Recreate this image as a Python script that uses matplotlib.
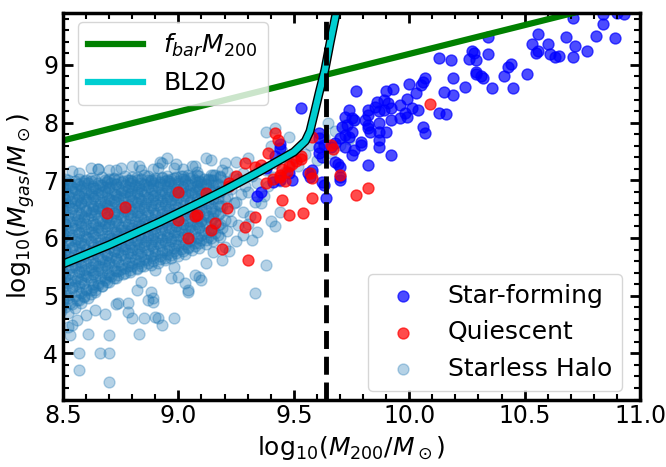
import numpy as np
import matplotlib.pyplot as plt
from matplotlib.ticker import MultipleLocator

# starless halos: (log10 M200, log10 Mgas)
halo_pts = [
    # dense core
    (8.48,4.62),(8.49,4.81),(8.50,4.95),(8.48,5.08),(8.49,5.21),(8.51,5.33),(8.48,5.44),(8.50,5.58),(8.49,5.67),(8.51,5.79),(8.48,5.9),(8.50,6.02),(8.49,6.13),(8.51,6.24),(8.48,6.35),(8.50,6.46),(8.49,6.57),(8.51,6.66),(8.48,6.77),(8.50,6.86),(8.49,6.95),(8.51,7.03),
    (8.52,4.7),(8.53,4.88),(8.52,5.02),(8.54,5.15),(8.53,5.27),(8.52,5.38),(8.54,5.5),(8.53,5.61),(8.52,5.73),(8.54,5.84),(8.53,5.96),(8.52,6.07),(8.54,6.18),(8.53,6.29),(8.52,6.4),(8.54,6.52),(8.53,6.62),(8.52,6.72),(8.54,6.81),(8.53,6.91),(8.52,7.0),(8.54,7.16),
    (8.55,4.78),(8.56,4.93),(8.57,5.06),(8.55,5.19),(8.56,5.31),(8.57,5.42),(8.55,5.54),(8.56,5.65),(8.57,5.76),(8.55,5.88),(8.56,5.99),(8.57,6.1),(8.55,6.22),(8.56,6.33),(8.57,6.44),(8.55,6.55),(8.56,6.65),(8.57,6.75),(8.55,6.85),(8.56,6.94),(8.57,7.02),
    (8.58,4.87),(8.59,5.0),(8.60,5.12),(8.58,5.24),(8.59,5.36),(8.60,5.47),(8.58,5.59),(8.59,5.7),(8.60,5.81),(8.58,5.92),(8.59,6.04),(8.60,6.15),(8.58,6.26),(8.59,6.37),(8.60,6.49),(8.58,6.6),(8.59,6.7),(8.60,6.8),(8.58,6.9),(8.59,6.99),(8.60,7.0),
    (8.61,4.96),(8.62,5.09),(8.63,5.2),(8.61,5.32),(8.62,5.44),(8.63,5.55),(8.61,5.66),(8.62,5.78),(8.63,5.89),(8.61,6.0),(8.62,6.11),(8.63,6.22),(8.61,6.34),(8.62,6.45),(8.63,6.56),(8.61,6.67),(8.62,6.77),(8.63,6.87),(8.61,6.96),(8.62,7.04),
    (8.64,5.07),(8.65,5.18),(8.66,5.3),(8.64,5.41),(8.65,5.52),(8.66,5.63),(8.64,5.74),(8.65,5.86),(8.66,5.97),(8.64,6.08),(8.65,6.19),(8.66,6.3),(8.64,6.41),(8.65,6.52),(8.66,6.63),(8.64,6.73),(8.65,6.83),(8.66,6.92),(8.64,7.01),(8.65,7.2),
    (8.67,5.16),(8.68,5.27),(8.69,5.38),(8.67,5.49),(8.68,5.6),(8.69,5.71),(8.67,5.82),(8.68,5.93),(8.69,6.04),(8.67,6.15),(8.68,6.26),(8.69,6.37),(8.67,6.48),(8.68,6.59),(8.69,6.69),(8.67,6.79),(8.68,6.89),(8.69,6.98),(8.67,7.06),
    (8.70,5.23),(8.71,5.34),(8.72,5.45),(8.70,5.56),(8.71,5.67),(8.72,5.78),(8.70,5.89),(8.71,6.0),(8.72,6.11),(8.70,6.22),(8.71,6.33),(8.72,6.44),(8.70,6.55),(8.71,6.66),(8.72,6.76),(8.70,6.86),(8.71,6.95),(8.72,7.04),(8.70,7.02),
    (8.73,5.31),(8.74,5.42),(8.75,5.53),(8.73,5.64),(8.74,5.75),(8.75,5.86),(8.73,5.97),(8.74,6.08),(8.75,6.19),(8.73,6.3),(8.74,6.41),(8.75,6.52),(8.73,6.63),(8.74,6.73),(8.75,6.83),(8.73,6.93),(8.74,7.02),(8.75,7.22),
    (8.76,5.37),(8.77,5.48),(8.78,5.59),(8.76,5.7),(8.77,5.81),(8.78,5.92),(8.76,6.03),(8.77,6.14),(8.78,6.25),(8.76,6.36),(8.77,6.47),(8.78,6.58),(8.76,6.69),(8.77,6.79),(8.78,6.89),(8.76,6.98),(8.77,7.07),
    (8.79,5.41),(8.80,5.52),(8.81,5.63),(8.79,5.74),(8.80,5.85),(8.81,5.96),(8.79,6.07),(8.80,6.18),(8.81,6.29),(8.79,6.4),(8.80,6.51),(8.81,6.62),(8.79,6.72),(8.80,6.82),(8.81,6.92),(8.79,7.01),(8.80,6.98),
    (8.82,5.46),(8.83,5.57),(8.84,5.68),(8.82,5.79),(8.83,5.9),(8.84,6.01),(8.82,6.12),(8.83,6.23),(8.84,6.34),(8.82,6.45),(8.83,6.56),(8.84,6.67),(8.82,6.77),(8.83,6.87),(8.84,6.96),(8.82,7.05),(8.83,7.25),
    (8.85,5.51),(8.86,5.62),(8.87,5.73),(8.85,5.84),(8.86,5.95),(8.87,6.06),(8.85,6.17),(8.86,6.28),(8.87,6.39),(8.85,6.5),(8.86,6.61),(8.87,6.71),(8.85,6.81),(8.86,6.91),(8.87,7.0),(8.85,7.09),
    (8.88,5.54),(8.89,5.66),(8.90,5.77),(8.88,5.88),(8.89,5.99),(8.90,6.1),(8.88,6.21),(8.89,6.32),(8.90,6.43),(8.88,6.54),(8.89,6.65),(8.90,6.75),(8.88,6.85),(8.89,6.95),(8.90,7.04),(8.88,7.0),
    (8.91,5.57),(8.92,5.69),(8.93,5.8),(8.91,5.91),(8.92,6.02),(8.93,6.13),(8.91,6.24),(8.92,6.35),(8.93,6.46),(8.91,6.57),(8.92,6.68),(8.93,6.78),(8.91,6.88),(8.92,6.97),(8.93,7.06),(8.91,7.22),
    (8.94,5.61),(8.95,5.73),(8.96,5.84),(8.94,5.95),(8.95,6.06),(8.96,6.17),(8.94,6.28),(8.95,6.39),(8.96,6.5),(8.94,6.61),(8.95,6.71),(8.96,6.81),(8.94,6.91),(8.95,7.0),(8.96,6.98),
    (8.97,5.65),(8.98,5.77),(8.99,5.88),(8.97,5.99),(8.98,6.1),(8.99,6.21),(8.97,6.32),(8.98,6.43),(8.99,6.54),(8.97,6.65),(8.98,6.75),(8.99,6.85),(8.97,6.95),(8.98,7.04),(8.99,7.28),
    (9.00,5.69),(9.01,5.81),(9.02,5.92),(9.00,6.03),(9.01,6.14),(9.02,6.25),(9.00,6.36),(9.01,6.47),(9.02,6.58),(9.00,6.69),(9.01,6.79),(9.02,6.89),(9.00,6.98),(9.01,7.07),(9.02,7.02),
    (9.03,5.73),(9.04,5.85),(9.05,5.96),(9.03,6.07),(9.04,6.18),(9.05,6.29),(9.03,6.4),(9.04,6.51),(9.05,6.62),(9.03,6.72),(9.04,6.82),(9.05,6.92),(9.03,7.01),(9.04,7.1),
    (9.06,5.79),(9.07,5.91),(9.08,6.02),(9.06,6.13),(9.07,6.24),(9.08,6.35),(9.06,6.46),(9.07,6.57),(9.08,6.68),(9.06,6.78),(9.07,6.88),(9.08,6.97),(9.06,7.06),(9.07,7.24),
    (9.09,5.83),(9.10,5.96),(9.11,6.08),(9.09,6.19),(9.10,6.3),(9.11,6.41),(9.09,6.52),(9.10,6.63),(9.11,6.74),(9.09,6.84),(9.10,6.94),(9.11,7.03),(9.09,6.98),
    (9.12,5.89),(9.13,6.02),(9.14,6.14),(9.12,6.26),(9.13,6.38),(9.14,6.5),(9.12,6.61),(9.13,6.72),(9.14,6.82),(9.12,6.92),(9.13,7.01),(9.14,7.1),
    (9.15,5.95),(9.16,6.09),(9.17,6.22),(9.15,6.35),(9.16,6.47),(9.17,6.59),(9.15,6.7),(9.16,6.81),(9.17,6.91),(9.15,7.0),(9.16,7.09),
    (9.18,6.02),(9.19,6.17),(9.20,6.31),(9.18,6.44),(9.19,6.56),(9.20,6.68),(9.18,6.79),(9.19,6.89),(9.20,6.99),(9.18,7.08),(9.19,7.17),
    (9.21,6.12),(9.23,6.3),(9.22,6.46),(9.24,6.6),(9.21,6.73),(9.23,6.85),(9.22,6.96),(9.24,7.06),(9.21,7.15),
    (9.26,6.22),(9.28,6.45),(9.25,6.62),(9.27,6.77),(9.29,6.9),(9.26,7.02),(9.28,7.12),
    (9.31,6.38),(9.33,6.62),(9.30,6.8),(9.34,6.95),(9.32,7.08),(9.35,7.2),
    (9.37,6.72),(9.39,6.9),(9.41,7.05),(9.38,7.18),(9.42,7.3),
    (9.44,6.98),(9.46,7.15),(9.48,7.3),(9.45,7.42),(9.50,7.38),
    # second pass through the saturated core
    (8.49,4.74),(8.50,4.9),(8.49,5.04),(8.50,5.15),(8.49,5.27),(8.50,5.39),(8.49,5.52),(8.50,5.63),(8.49,5.74),(8.50,5.85),(8.49,5.97),(8.50,6.08),(8.49,6.19),(8.50,6.3),(8.49,6.41),(8.50,6.52),(8.49,6.62),(8.50,6.71),(8.49,6.82),(8.50,6.91),
    (8.51,4.8),(8.52,4.96),(8.51,5.1),(8.52,5.22),(8.51,5.34),(8.52,5.46),(8.51,5.57),(8.52,5.68),(8.51,5.8),(8.52,5.91),(8.51,6.03),(8.52,6.14),(8.51,6.25),(8.52,6.36),(8.51,6.47),(8.52,6.58),(8.51,6.68),(8.52,6.77),(8.51,6.87),(8.52,6.96),
    (8.54,4.85),(8.55,5.0),(8.54,5.13),(8.55,5.25),(8.54,5.37),(8.55,5.49),(8.54,5.6),(8.55,5.71),(8.54,5.83),(8.55,5.94),(8.54,6.05),(8.55,6.16),(8.54,6.28),(8.55,6.39),(8.54,6.5),(8.55,6.6),(8.54,6.7),(8.55,6.8),(8.54,6.89),(8.55,6.98),
    (8.57,4.92),(8.58,5.05),(8.57,5.17),(8.58,5.29),(8.57,5.41),(8.58,5.52),(8.57,5.63),(8.58,5.75),(8.57,5.86),(8.58,5.97),(8.57,6.09),(8.58,6.2),(8.57,6.31),(8.58,6.42),(8.57,6.53),(8.58,6.63),(8.57,6.73),(8.58,6.83),(8.57,6.93),
    (8.59,4.98),(8.60,5.1),(8.59,5.22),(8.60,5.34),(8.59,5.45),(8.60,5.56),(8.59,5.68),(8.60,5.79),(8.59,5.9),(8.60,6.02),(8.59,6.13),(8.60,6.24),(8.59,6.35),(8.60,6.46),(8.59,6.56),(8.60,6.66),(8.59,6.76),(8.60,6.86),(8.59,6.95),
    (8.62,5.03),(8.63,5.15),(8.62,5.27),(8.63,5.38),(8.62,5.5),(8.63,5.61),(8.62,5.72),(8.63,5.84),(8.62,5.95),(8.63,6.06),(8.62,6.17),(8.63,6.28),(8.62,6.39),(8.63,6.5),(8.62,6.6),(8.63,6.7),(8.62,6.8),(8.63,6.9),(8.62,6.99),
    (8.64,5.1),(8.65,5.22),(8.64,5.34),(8.65,5.45),(8.64,5.57),(8.65,5.68),(8.64,5.8),(8.65,5.91),(8.64,6.02),(8.65,6.13),(8.64,6.24),(8.65,6.35),(8.64,6.46),(8.65,6.56),(8.64,6.66),(8.65,6.76),(8.64,6.86),(8.65,6.95),
    (8.67,5.17),(8.68,5.3),(8.67,5.41),(8.68,5.53),(8.67,5.64),(8.68,5.76),(8.67,5.87),(8.68,5.98),(8.67,6.09),(8.68,6.2),(8.67,6.31),(8.68,6.42),(8.67,6.52),(8.68,6.62),(8.67,6.72),(8.68,6.82),(8.67,6.92),(8.68,7.01),
    (8.69,5.24),(8.70,5.36),(8.69,5.48),(8.70,5.59),(8.69,5.71),(8.70,5.82),(8.69,5.93),(8.70,6.04),(8.69,6.15),(8.70,6.26),(8.69,6.37),(8.70,6.48),(8.69,6.58),(8.70,6.68),(8.69,6.78),(8.70,6.88),(8.69,6.97),
    (8.72,5.3),(8.73,5.42),(8.72,5.54),(8.73,5.65),(8.72,5.77),(8.73,5.88),(8.72,5.99),(8.73,6.1),(8.72,6.21),(8.73,6.32),(8.72,6.43),(8.73,6.54),(8.72,6.64),(8.73,6.74),(8.72,6.84),(8.73,6.94),(8.72,7.03),
    (8.74,5.35),(8.75,5.47),(8.74,5.58),(8.75,5.7),(8.74,5.81),(8.75,5.92),(8.74,6.03),(8.75,6.14),(8.74,6.25),(8.75,6.36),(8.74,6.47),(8.75,6.58),(8.74,6.68),(8.75,6.78),(8.74,6.88),(8.75,6.97),
    (8.77,5.4),(8.78,5.52),(8.77,5.63),(8.78,5.74),(8.77,5.86),(8.78,5.97),(8.77,6.08),(8.78,6.19),(8.77,6.3),(8.78,6.41),(8.77,6.52),(8.78,6.62),(8.77,6.72),(8.78,6.82),(8.77,6.92),(8.78,7.01),
    (8.79,5.44),(8.80,5.56),(8.79,5.67),(8.80,5.79),(8.79,5.9),(8.80,6.01),(8.79,6.12),(8.80,6.23),(8.79,6.34),(8.80,6.45),(8.79,6.56),(8.80,6.66),(8.79,6.76),(8.80,6.86),(8.79,6.96),(8.80,7.05),
    (8.82,5.48),(8.83,5.6),(8.82,5.72),(8.83,5.83),(8.82,5.94),(8.83,6.05),(8.82,6.16),(8.83,6.27),(8.82,6.38),(8.83,6.49),(8.82,6.6),(8.83,6.7),(8.82,6.8),(8.83,6.9),(8.82,7.0),
    (8.84,5.52),(8.85,5.64),(8.84,5.76),(8.85,5.87),(8.84,5.98),(8.85,6.09),(8.84,6.2),(8.85,6.31),(8.84,6.42),(8.85,6.53),(8.84,6.64),(8.85,6.74),(8.84,6.84),(8.85,6.94),(8.84,7.03),
    (8.87,5.56),(8.88,5.68),(8.87,5.8),(8.88,5.91),(8.87,6.02),(8.88,6.13),(8.87,6.24),(8.88,6.35),(8.87,6.46),(8.88,6.57),(8.87,6.68),(8.88,6.78),(8.87,6.88),(8.88,6.98),(8.87,7.07),
    (8.89,5.6),(8.90,5.72),(8.89,5.84),(8.90,5.95),(8.89,6.06),(8.90,6.17),(8.89,6.28),(8.90,6.39),(8.89,6.5),(8.90,6.61),(8.89,6.72),(8.90,6.82),(8.89,6.92),(8.90,7.01),
    (8.92,5.63),(8.93,5.75),(8.92,5.87),(8.93,5.98),(8.92,6.09),(8.93,6.2),(8.92,6.31),(8.93,6.42),(8.92,6.53),(8.93,6.64),(8.92,6.74),(8.93,6.84),(8.92,6.94),(8.93,7.04),
    (8.94,5.66),(8.95,5.79),(8.94,5.91),(8.95,6.02),(8.94,6.13),(8.95,6.24),(8.94,6.35),(8.95,6.46),(8.94,6.57),(8.95,6.68),(8.94,6.78),(8.95,6.88),(8.94,6.98),(8.95,7.07),
    (8.97,5.7),(8.98,5.83),(8.97,5.95),(8.98,6.06),(8.97,6.17),(8.98,6.28),(8.97,6.39),(8.98,6.5),(8.97,6.61),(8.98,6.72),(8.97,6.82),(8.98,6.92),(8.97,7.02),
    (8.99,5.74),(9.00,5.87),(8.99,5.99),(9.00,6.1),(8.99,6.21),(9.00,6.32),(8.99,6.43),(9.00,6.54),(8.99,6.65),(9.00,6.75),(8.99,6.85),(9.00,6.95),(8.99,7.05),
    (9.02,5.78),(9.03,5.9),(9.02,6.02),(9.03,6.13),(9.02,6.24),(9.03,6.35),(9.02,6.46),(9.03,6.57),(9.02,6.68),(9.03,6.78),(9.02,6.88),(9.03,6.98),(9.02,7.08),
    (9.04,5.82),(9.05,5.95),(9.04,6.07),(9.05,6.19),(9.04,6.3),(9.05,6.41),(9.04,6.52),(9.05,6.63),(9.04,6.74),(9.05,6.84),(9.04,6.94),(9.05,7.04),
    (9.07,5.86),(9.08,6.0),(9.07,6.12),(9.08,6.24),(9.07,6.36),(9.08,6.47),(9.07,6.58),(9.08,6.69),(9.07,6.8),(9.08,6.9),(9.07,7.0),(9.08,7.1),
    (9.09,5.91),(9.10,6.05),(9.09,6.18),(9.10,6.3),(9.09,6.42),(9.10,6.54),(9.09,6.65),(9.10,6.76),(9.09,6.87),(9.10,6.97),(9.09,7.07),
    (9.12,5.96),(9.13,6.1),(9.12,6.23),(9.13,6.36),(9.12,6.48),(9.13,6.6),(9.12,6.71),(9.13,6.82),(9.12,6.93),(9.13,7.03),
    (9.14,6.0),(9.15,6.16),(9.14,6.3),(9.15,6.43),(9.14,6.56),(9.15,6.68),(9.14,6.79),(9.15,6.9),(9.14,7.0),(9.15,7.1),
    (9.17,6.06),(9.18,6.24),(9.17,6.4),(9.18,6.55),(9.17,6.69),(9.18,6.82),(9.17,6.94),(9.18,7.05),
    # upper scatter
    (8.95,7.39),(8.93,7.3),(8.70,7.18),(8.65,7.2),(8.57,7.12),(8.84,7.18),(8.73,7.17),(9.02,7.2),(8.98,7.22),(8.89,7.2),
    (9.12,7.39),(8.92,7.32),(9.06,7.25),(8.62,7.22),(9.20,7.3),(9.25,7.32),(9.30,7.38),(8.80,7.25),(9.14,7.36),(9.08,7.14),
    # hidden behind the star-forming cloud
    (9.52,7.25),(9.55,7.45),(9.57,7.62),(9.60,7.35),(9.62,7.55),(9.63,7.75),(9.66,7.48),(9.68,7.85),(9.70,7.62),(9.72,7.95),
    (9.74,7.72),(9.76,8.05),(9.65,8.0),(9.58,7.12),(9.42,7.9),(9.38,7.84),(9.40,7.6),(9.45,7.5),(9.48,7.75),
    # lower scatter
    (8.57,3.71),(8.70,3.51),(8.57,4.01),(8.66,4.01),(8.70,4.01),(8.53,4.32),(8.61,4.34),(8.70,4.32),(8.83,4.34),(8.85,4.61),
    (8.91,4.61),(8.93,4.49),(8.98,4.61),(8.56,4.58),(8.80,4.61),(8.68,4.68),(8.74,4.87),(8.78,4.72),(8.87,4.93),(8.88,5.06),
    (8.97,5.31),(9.04,5.1),(9.03,5.22),(9.00,5.33),(8.98,5.5),(8.90,5.45),(8.84,5.24),(8.82,5.1),(8.78,4.88),(8.73,4.85),
    (9.07,5.36),(9.33,5.05),(9.38,5.53),(9.32,5.97),(9.34,6.1),(9.36,6.61),(9.44,6.45),(9.19,5.62),(9.12,5.57),(9.09,5.32),
    (9.10,5.27),(9.04,5.06),(8.89,4.96),(8.89,4.89),(8.90,4.63),(8.64,4.76),(8.60,4.66),(8.52,4.45),(8.54,4.5),(9.15,5.75),
    (9.20,5.85),(9.25,5.95),(9.28,6.05),(9.22,5.78),(9.40,6.3),(9.42,6.2),(9.30,6.25),
]

# star-forming galaxies
sf_pts = [
    (10.71,9.81),(10.84,9.88),(10.90,9.9),(10.93,9.88),(10.84,9.71),(10.56,9.54),(10.68,9.48),(10.81,9.5),(10.89,9.47),(10.53,9.36),
    (10.60,9.36),(10.72,9.33),(10.77,9.24),(10.55,9.21),(10.56,9.24),(10.61,9.19),(10.63,9.14),(10.65,9.16),(10.71,9.14),(10.34,9.19),
    (10.28,9.21),(10.29,9.09),(10.44,9.02),(10.43,8.96),(10.29,8.84),(10.31,8.81),(10.32,8.78),(10.41,8.81),(10.51,8.84),(10.36,8.6),
    (10.45,8.6),(10.34,9.48),(10.13,9.12),(10.18,9.09),(10.27,9.24),(10.26,9.1),(10.29,8.87),(10.19,8.77),(10.24,8.62),(10.15,8.53),
    (10.19,8.48),(10.13,8.17),(10.16,8.15),(10.06,8.7),(10.07,8.77),(10.05,8.65),(10.00,8.67),(10.03,8.51),(9.93,8.58),(9.90,8.55),
    (9.77,8.55),(9.99,8.41),(9.96,8.31),(10.01,8.25),(10.04,8.22),(9.89,8.39),(9.91,8.34),(9.92,8.25),(9.89,8.22),(9.98,8.17),
    (9.99,8.1),(9.96,8.08),(9.86,8.36),(9.85,8.27),(9.82,8.22),(9.82,8.13),(9.87,8.2),(9.87,8.0),(9.92,8.05),(10.06,7.92),
    (10.07,7.82),(9.74,8.22),(9.72,8.1),(9.75,8.08),(9.76,8.04),(9.81,8.05),(9.82,7.96),(9.82,7.9),(9.83,7.84),(9.87,7.84),
    (9.90,7.84),(9.87,7.7),(9.87,7.58),(9.79,7.66),(9.79,7.61),(9.76,7.53),(9.75,7.44),(9.72,7.58),(9.68,7.65),(9.66,7.58),
    (9.70,7.73),(9.72,7.79),(9.74,7.75),(9.75,7.84),(9.71,7.92),(9.73,7.96),(9.61,7.82),(9.61,7.73),(9.61,7.58),(9.61,7.47),
    (9.62,7.4),(9.68,7.32),(9.70,7.23),(9.70,7.06),(9.70,7.0),(9.62,6.97),(9.82,7.27),(9.92,7.44),(9.56,7.13),(9.57,7.06),
    (9.64,6.69),(9.53,8.26),(9.63,6.92),(9.69,7.28),(9.44,7.63),(9.44,7.56),(9.36,6.8),(9.41,6.97),(9.44,7.0),(9.48,7.13),
    (9.49,7.0),(9.63,7.62),(9.38,7.21),(9.42,7.42),(9.34,6.72),(9.58,7.18),
]

# quiescent galaxies
q_pts = [
    (8.69,6.43),(8.77,6.54),(9.00,6.8),(9.00,6.31),(9.04,6.0),(9.07,6.38),(9.12,6.78),(9.21,6.52),(9.16,6.26),(9.14,6.14),
    (9.19,5.81),(9.30,5.62),(9.29,6.19),(9.33,6.36),(9.22,6.95),(9.25,7.08),(9.29,7.3),(9.33,7.23),(9.36,7.27),(9.38,6.95),
    (9.45,6.66),(9.48,6.4),(9.54,6.43),(9.58,6.69),(9.77,6.75),(9.82,6.87),(9.44,7.1),(9.45,7.2),(9.48,7.24),(9.49,7.29),
    (9.51,7.33),(9.53,7.37),(9.47,7.15),(9.41,7.03),(9.39,7.48),(9.42,7.82),(9.43,7.7),(9.58,7.75),(9.67,7.55),(9.66,7.62),
    (9.70,7.09),(9.57,7.12),(9.08,6.4),(9.22,6.9),(9.46,6.98),(9.44,7.05),(9.53,7.42),(9.58,7.04),(10.09,8.33),
]

# BL20 model curve
bl20_x = [8.50, 8.70, 8.92, 9.09, 9.21, 9.35, 9.50, 9.55, 9.57, 9.59, 9.61, 9.635, 9.657, 9.68, 9.69]
bl20_y = [5.55, 5.88, 6.28, 6.61, 6.85, 7.15, 7.49, 7.68, 7.85, 8.18, 8.52, 8.92, 9.38, 9.83, 10.0]

# f_bar * M200
fbar_x = [8.5, 11.0]
fbar_y = [7.69, 10.19]

m_crit = 9.64

halo_x, halo_y = np.array(halo_pts).T
sf_x, sf_y = np.array(sf_pts).T
q_x, q_y = np.array(q_pts).T

fig = plt.figure(figsize=(6.66, 4.67), dpi=100)
ax = fig.add_axes([0.0946, 0.1445, 0.8664, 0.8277])

h_halo = ax.scatter(halo_x, halo_y, s=62, color='C0', alpha=0.33, label='Starless Halo')
h_sf = ax.scatter(sf_x, sf_y, s=62, color='blue', alpha=0.7, label='Star-forming')
h_q = ax.scatter(q_x, q_y, s=62, color='red', alpha=0.7, label='Quiescent')

l_fbar, = ax.plot(fbar_x, fbar_y, color='green', lw=4.5, label=r'$f_{bar}M_{200}$')
ax.plot(bl20_x, bl20_y, color='black', lw=6.5)
l_bl20, = ax.plot(bl20_x, bl20_y, color='darkturquoise', lw=4.5, label='BL20')
ax.axvline(m_crit, color='black', ls='--', lw=3.5)

ax.set_xlim(8.5, 11.0)
ax.set_ylim(3.2, 9.9)
ax.xaxis.set_major_locator(MultipleLocator(0.5))
ax.xaxis.set_minor_locator(MultipleLocator(0.1))
ax.yaxis.set_major_locator(MultipleLocator(1))
ax.yaxis.set_minor_locator(MultipleLocator(0.2))
ax.tick_params(which='both', direction='in', top=True, right=True, labelsize=17)
ax.tick_params(which='major', length=7, width=2)
ax.tick_params(which='minor', length=4, width=1.5)
for sp in ax.spines.values():
    sp.set_linewidth(2.5)

ax.set_xlabel(r'$\mathrm{log}_{10}(M_{200}/M_\odot)$', fontsize=18)
ax.set_ylabel(r'$\mathrm{log}_{10}(M_{gas}/M_\odot)$', fontsize=18)

leg1 = ax.legend(handles=[l_fbar, l_bl20], loc='upper left', fontsize=18,
                 handlelength=2.2, bbox_to_anchor=(0.005, 1.01))
ax.legend(handles=[h_sf, h_q, h_halo], loc='lower right', fontsize=18,
          bbox_to_anchor=(0.99, -0.01))
ax.add_artist(leg1)

fig.savefig('out.png', dpi=100)
